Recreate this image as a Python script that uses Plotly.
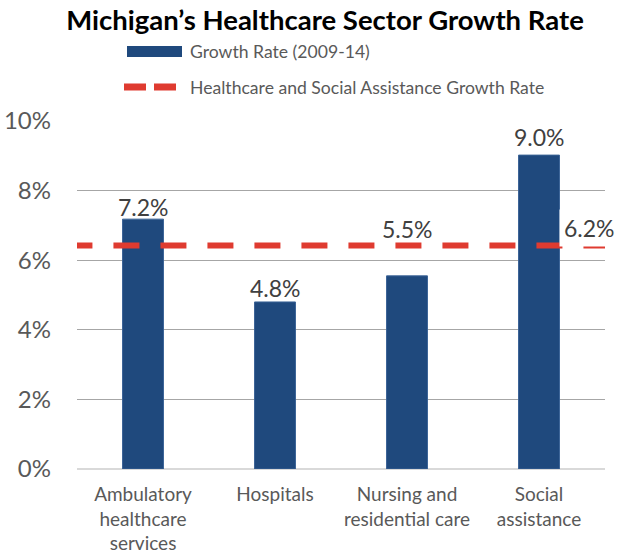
import plotly.graph_objects as go

categories = ["Ambulatory<br>healthcare<br>services", "Hospitals", "Nursing and<br>residential care", "Social<br>assistance"]
growth_values = [7.18, 4.8, 5.55, 9.02]
growth_labels = ["7.2%", "4.8%", "5.5%", "9.0%"]
sector_rate = 6.42
sector_label = "6.2%"
y_ticks = [0, 2, 4, 6, 8, 10]
y_tick_labels = ["0%", "2%", "4%", "6%", "8%", "10%"]

W, H = 618, 556
L, R, T, B = 77, 13, 121, 87
PW, PH = W - L - R, H - T - B

def px(x):
    return (x - L) / PW

def py(y):
    return (H - B - y) / PH

FONT = "Lato"
BLUE = "#1F497D"
RED = "#DF3B30"
GRAY = "#595959"

xs = list(range(len(categories)))

fig = go.Figure()
fig.add_trace(go.Bar(
    x=xs, y=growth_values, width=0.31,
    marker=dict(color=BLUE, line=dict(color="#3A6396", width=1)),
    showlegend=False, hoverinfo="skip",
))
fig.add_trace(go.Scatter(
    x=[-0.58, 3.5], y=[sector_rate, sector_rate], mode="lines",
    line=dict(color=RED, width=6, dash="26px,21px"),
    cliponaxis=False, showlegend=False, hoverinfo="skip",
))

annotations = []
label_shift = [-4, -2, 31, 2]
for i, (v, t) in enumerate(zip(growth_values, growth_labels)):
    annotations.append(dict(
        x=i, y=v, text=t, showarrow=False, xanchor="center", yanchor="bottom",
        yshift=label_shift[i], font=dict(family=FONT, size=23, color="#404040"),
    ))
annotations.append(dict(
    x=3.5, y=sector_rate, text=sector_label, showarrow=False,
    xanchor="center", yanchor="middle", xshift=-16, yshift=18,
    bgcolor="white", borderpad=4,
    font=dict(family=FONT, size=23, color="#404040"),
))
# legend texts
annotations.append(dict(
    xref="paper", yref="paper", x=px(188), y=py(51), text="Growth Rate (2009-14)",
    showarrow=False, xanchor="left", yanchor="middle",
    font=dict(family=FONT, size=17.6, color=GRAY),
))
annotations.append(dict(
    xref="paper", yref="paper", x=px(188), y=py(87), text="Healthcare and Social Assistance Growth Rate",
    showarrow=False, xanchor="left", yanchor="middle",
    font=dict(family=FONT, size=17.6, color=GRAY),
))

shapes = [
    dict(type="rect", xref="paper", yref="paper", x0=px(127), x1=px(182), y0=py(57), y1=py(46),
         fillcolor=BLUE, line=dict(width=0)),
    dict(type="line", xref="paper", yref="paper", x0=px(124), x1=px(176), y0=py(87), y1=py(87),
         line=dict(color=RED, width=7, dash="22px,8px")),
]

fig.update_layout(
    width=W, height=H,
    margin=dict(l=L, r=R, t=T, b=B, autoexpand=False),
    paper_bgcolor="white", plot_bgcolor="white",
    title=dict(text="<b>Michigan’s Healthcare Sector Growth Rate</b>", x=325 / W, xanchor="center",
               y=1 - 20 / H, yanchor="middle", font=dict(family=FONT, size=27.5, color="black")),
    font=dict(family=FONT, color=GRAY),
    xaxis=dict(range=[-0.5, 3.5], tickvals=xs, ticktext=categories, showgrid=False, zeroline=False,
               showline=False, ticks="", ticklabelstandoff=12, automargin=False,
               tickfont=dict(family=FONT, size=19, color=GRAY)),
    yaxis=dict(range=[0, 10], tickvals=y_ticks, ticktext=y_tick_labels, showgrid=True,
               gridcolor="#A6A6A6", gridwidth=1, zeroline=True, zerolinecolor="#D9D9D9", zerolinewidth=2,
               showline=False, ticks="", ticklabelstandoff=25, automargin=False,
               tickfont=dict(family=FONT, size=24, color=GRAY)),
    annotations=annotations, shapes=shapes,
    bargap=0.69,
)

fig.write_html("out.html", config={"displayModeBar": False, "staticPlot": True},
               post_script="document.body.style.margin='0px';document.body.style.overflow='hidden';")
